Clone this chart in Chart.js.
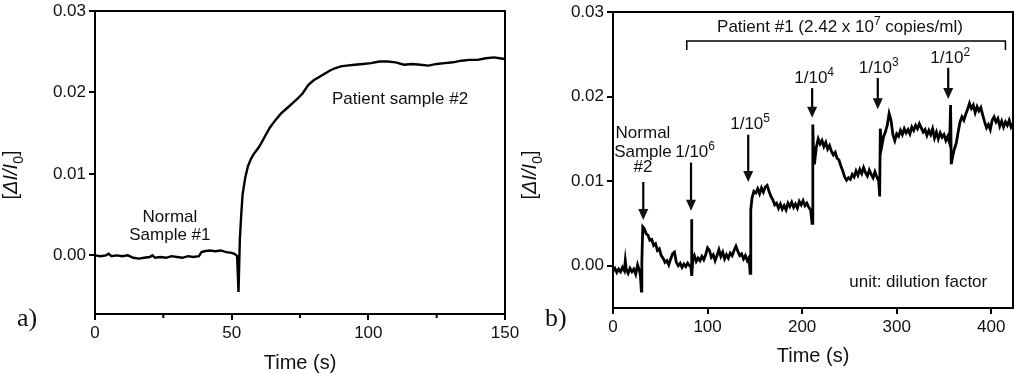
<!DOCTYPE html>
<html>
<head>
<meta charset="utf-8">
<script src="https://cdn.jsdelivr.net/npm/chart.js@4.4.1/dist/chart.umd.min.js"></script>
<style>
body { margin: 0; background: #fff; width: 1024px; height: 374px; overflow: hidden; position: relative; }
canvas { position: absolute; top: 0; }
#chartA { left: 0; }
#chartB { left: 512px; }
</style>
</head>
<body>
<canvas id="chartA" width="540" height="374"></canvas>
<canvas id="chartB" width="512" height="374"></canvas>
<script>
// panel a) normal sample #1 then patient sample #2
const timeA = [0,2,4,5,6,8,10,12,14,16,18,20,21,22,24,26,28,30,32,34,
	36,38,39,40,42,44,46,48,50,51,52,52.5,53,53.5,54,55,56,57,58,60,
	62,64,66,68,70,72,74,76,78,80,82,84,86,88,90,92,95,98,101,104,
	107,110,113,116,119,122,125,128,131,134,137,140,143,146,148,150];
const signalA = [0,-0.0001,0,0.0002,-0.0001,0,-0.0001,0,-0.0003,-0.0004,
	-0.0003,-0.0002,0,-0.0003,-0.0002,-0.0003,-0.0001,-0.0002,-0.0003,-0.0001,
	-0.0002,-0.0001,0.0004,0.0005,0.0006,0.0005,0.0006,0.0004,0.0003,0.0002,
	-0.0001,-0.0045,0.002,0.005,0.0075,0.0096,0.011,0.0118,0.0124,0.0133,
	0.0145,0.0157,0.0166,0.0174,0.018,0.0186,0.0192,0.0199,0.0209,0.0215,
	0.0219,0.0223,0.0227,0.023,0.0232,0.0233,0.0234,0.0235,0.0236,0.0238,
	0.0238,0.0237,0.0234,0.0235,0.0234,0.0233,0.0235,0.0236,0.0237,0.0239,
	0.024,0.024,0.0242,0.0243,0.0242,0.0241];
const xTicksA = [0, 50, 100, 150];
const xMinorA = [25, 75, 125];

// panel b) dilution series of patient #1
const timeB = [0,2,4,6,8,10,12,13,14,16,
	18,20,22,24,26,28,29,30,30.5,31.5,
	33,35,37,39,41,43,45,47,49,51,
	53,55,57,59,61,63,65,67,69,71,
	73,75,77,79,81,82.5,83,83.5,84.5,86,
	88,90,92,94,96,98,100,102,104,106,
	108,110,112,114,116,118,120,122,124,126,
	128,130,132,134,136,138,140,142,144,145,
	145.7,147,149,151,153,155,157,159,161,163,
	165,167,169,171,173,175,177,179,181,183,
	185,187,189,191,193,195,197,199,201,203,
	205,207,209,210.5,211.3,212,213,215,217,219,
	221,223,225,227,229,231,233,235,237,239,
	241,243,245,247,249,251,253,255,257,259,
	261,263,265,267,269,271,273,275,277,279,
	281,282,282.7,284,286,288,290,292,294,296,
	298,300,302,304,306,308,310,312,314,316,
	318,320,322,324,326,328,330,332,334,336,
	338,340,342,344,346,348,350,352,354,356,
	357,357.7,359,361,363,365,367,369,371,373,
	375,377,379,381,383,385,387,389,391,393,
	395,397,399,401,403,405,407,409,411,413,
	415,417,419,421,423,425];
const signalB = [-0.0006,-0.0003,-0.0008,-0.0004,-0.0007,-0.0002,-0.0006,0.0006,-0.0004,-0.0009,
	-0.0003,-0.0007,-0.0004,-0.001,0.0001,-0.0006,-0.0012,-0.003,0.0005,0.0046,
	0.0044,0.0038,0.0036,0.003,0.0031,0.0024,0.0026,0.0018,0.002,0.0012,
	0.0009,0.0004,0.0006,0.0001,0.0008,0.0014,0.0016,0.0004,0,0.0003,
	-0.0002,0.0002,-0.0001,0.0003,0,-0.0002,0.0055,-0.0012,0.0008,0.0012,
	0.0005,0.0009,0.0006,0.0011,0.0007,0.0013,0.0021,0.0018,0.001,0.0013,
	0.0006,0.0012,0.0019,0.0011,0.0016,0.0008,0.0013,0.0009,0.0015,0.0012,
	0.0018,0.0023,0.0017,0.0012,0.0014,0.0008,0.0012,0.0006,0.001,-0.0009,
	0.0066,0.008,0.0088,0.0086,0.0091,0.0085,0.0092,0.0087,0.0093,0.0095,
	0.0088,0.0082,0.0078,0.0072,0.0074,0.0068,0.0073,0.0067,0.0071,0.0066,
	0.0074,0.007,0.0075,0.0069,0.0073,0.0068,0.0076,0.0072,0.0077,0.0071,
	0.0074,0.0069,0.0066,0.005,0.0167,0.0135,0.012,0.014,0.015,0.0144,
	0.0148,0.0141,0.0146,0.0138,0.0142,0.0135,0.0131,0.0134,0.0127,0.0125,
	0.0118,0.0112,0.0105,0.0101,0.0104,0.0102,0.0108,0.0105,0.0112,0.0107,
	0.0114,0.0109,0.0116,0.011,0.0106,0.0113,0.0108,0.0104,0.0111,0.0105,
	0.01,0.0082,0.0162,0.014,0.0152,0.0158,0.0166,0.018,0.0172,0.0155,
	0.0148,0.0156,0.0153,0.016,0.0155,0.0162,0.0157,0.0161,0.0156,0.0164,
	0.016,0.0166,0.0162,0.0168,0.0163,0.0158,0.0161,0.0154,0.016,0.0155,
	0.0162,0.0151,0.0158,0.015,0.0157,0.0152,0.0155,0.0148,0.0153,0.0145,
	0.019,0.012,0.0128,0.0138,0.0145,0.0158,0.017,0.0176,0.0172,0.0179,
	0.0185,0.0192,0.0186,0.019,0.0181,0.0188,0.0183,0.0187,0.0178,0.017,
	0.0163,0.0167,0.0161,0.0172,0.0176,0.017,0.0174,0.0165,0.0171,0.0164,
	0.017,0.0166,0.0172,0.0164,0.0168,0.0165];
const xTicksB = [0, 100, 200, 300, 400];
const yTicks = [0, 0.01, 0.02, 0.03];

// injection times, arrow start and tip (signal units)
const arrowTime = [32, 82.5, 143, 210.6, 280, 354.5];
const arrowFrom = [0.0099, 0.0122, 0.0155, 0.021, 0.0222, 0.0234];
const arrowTo = [0.0054, 0.0065, 0.0099, 0.0175, 0.0185, 0.0197];
const dilutionExp = ['6', '5', '4', '3', '2'];

const FAM = '"Liberation Sans", Arial, Helvetica, sans-serif';
Chart.defaults.font.family = FAM;
Chart.defaults.color = '#111';

// draw mixed text: parts = [[text, kind]], kind '', 'i', 'sup', 'sub'
function rich(ctx, parts, cx, cy, size) {
	const fontOf = k => (k === 'i' ? 'italic ' : '') +
		(k === 'sup' || k === 'sub' ? Math.round(size * 0.68) : size) + 'px ' + FAM;
	let w = 0;
	parts.forEach(p => { ctx.font = fontOf(p[1]); w += ctx.measureText(p[0]).width; });
	let xx = cx - w / 2;
	const base = cy + size * 0.36;
	ctx.textAlign = 'left';
	ctx.textBaseline = 'alphabetic';
	parts.forEach(p => {
		ctx.font = fontOf(p[1]);
		const dy = p[1] === 'sup' ? -size * 0.42 : (p[1] === 'sub' ? size * 0.28 : 0);
		ctx.fillText(p[0], xx, base + dy);
		xx += ctx.measureText(p[0]).width;
	});
}

const panelPlugin = {
	id: 'panel',
	afterDraw(chart, args, opts) {
		const { ctx, chartArea: a, scales: { x, y } } = chart;
		ctx.save();
		ctx.strokeStyle = '#000';
		ctx.fillStyle = '#111';
		ctx.lineWidth = 2;
		ctx.strokeRect(a.left, a.top, a.right - a.left, a.bottom - a.top);
		(opts.minorX || []).forEach(v => {
			const px = x.getPixelForValue(v);
			ctx.beginPath(); ctx.moveTo(px, a.bottom); ctx.lineTo(px, a.bottom + 4); ctx.stroke();
		});
		// axis titles
		rich(ctx, [['Time (s)', '']], (a.left + a.right) / 2, a.bottom + opts.xTitleGap, 20);
		ctx.save();
		ctx.translate(opts.yTitleX, 175);
		ctx.rotate(-Math.PI / 2);
		rich(ctx, [['[', ''], ['\u0394I/I', 'i'], ['0', 'sub'], [']', '']], 0, -7, 20);
		ctx.restore();
		// panel letter
		ctx.font = '26px "Liberation Serif", "Times New Roman", serif';
		ctx.textAlign = 'left';
		ctx.textBaseline = 'alphabetic';
		ctx.fillText(opts.letter, opts.letterX, 326);
		if (opts.extra) opts.extra(ctx, x, y, a);
		ctx.restore();
	}
};

function makeChart(id, t, v, xMax, yMin, xTicks, lw, box, pluginOpts) {
	return new Chart(document.getElementById(id), {
		type: 'line',
		data: {
			datasets: [{
				data: t.map((tt, i) => ({ x: tt, y: v[i] })),
				borderColor: '#000',
				borderWidth: lw,
				pointRadius: 0,
				tension: 0,
				fill: false
			}]
		},
		options: {
			responsive: false,
			animation: false,
			events: [],
			layout: { padding: { top: box.top, right: box.right, left: 0, bottom: 0 } },
			plugins: { legend: { display: false }, tooltip: { enabled: false }, panel: pluginOpts },
			scales: {
				x: {
					type: 'linear', min: 0, max: xMax,
					afterBuildTicks: s => { s.ticks = xTicks.map(val => ({ value: val })); },
					afterFit: s => { s.height = box.xh; s.paddingLeft = 0; s.paddingRight = 0; },
					ticks: { font: { size: 17 }, color: '#111', padding: 3, maxRotation: 0, autoSkip: false, callback: val => String(val) },
					grid: { drawOnChartArea: false, drawTicks: true, tickLength: 6, color: '#000', lineWidth: 2 },
					border: { display: true, color: '#000', width: 2 }
				},
				y: {
					type: 'linear', min: yMin, max: 0.03,
					afterBuildTicks: s => { s.ticks = yTicks.map(val => ({ value: val })); },
					afterFit: s => { s.width = box.yw; s.paddingTop = 0; s.paddingBottom = 0; },
					ticks: { font: { size: 17 }, color: '#111', padding: 3, autoSkip: false, callback: val => val.toFixed(2) },
					grid: { drawOnChartArea: false, drawTicks: true, tickLength: 6, color: '#000', lineWidth: 2 },
					border: { display: true, color: '#000', width: 2 }
				}
			}
		},
		plugins: [panelPlugin]
	});
}

makeChart('chartA', timeA, signalA, 150, -0.0072, xTicksA, 2.4,
	{ top: 11, right: 35, xh: 60, yw: 95 },
	{
		minorX: xMinorA, xTitleGap: 48, yTitleX: 17, letter: 'a)', letterX: 17,
		extra(ctx, x, y) {
			rich(ctx, [['Normal', '']], x.getPixelForValue(27.4), y.getPixelForValue(0.0049), 17);
			rich(ctx, [['Sample #1', '']], x.getPixelForValue(27.4), y.getPixelForValue(0.0026), 17);
			rich(ctx, [['Patient sample #2', '']], x.getPixelForValue(111.6), y.getPixelForValue(0.0193), 17);
		}
	});

makeChart('chartB', timeB, signalB, 423, -0.005, xTicksB, 2.8,
	{ top: 12, right: 11, xh: 66, yw: 101 },
	{
		xTitleGap: 47, yTitleX: 24, letter: 'b)', letterX: 33,
		extra(ctx, x, y) {
			// bracket over the patient dilutions
			const bl = x.getPixelForValue(78), br = x.getPixelForValue(415);
			const bt = y.getPixelForValue(0.02656), bb = y.getPixelForValue(0.0255);
			ctx.lineWidth = 1.5;
			ctx.beginPath();
			ctx.moveTo(bl, bb); ctx.lineTo(bl, bt); ctx.lineTo(br, bt); ctx.lineTo(br, bb);
			ctx.stroke();
			rich(ctx, [['Patient #1 (2.42 x 10', ''], ['7', 'sup'], [' copies/ml)', '']],
				x.getPixelForValue(240), y.getPixelForValue(0.02834), 17);
			// arrows
			ctx.lineWidth = 2.2;
			arrowTime.forEach((tt, i) => {
				const px = x.getPixelForValue(tt);
				const y0 = y.getPixelForValue(arrowFrom[i]);
				const y1 = y.getPixelForValue(arrowTo[i]);
				ctx.beginPath(); ctx.moveTo(px, y0); ctx.lineTo(px, y1 - 9); ctx.stroke();
				ctx.beginPath();
				ctx.moveTo(px - 5, y1 - 11); ctx.lineTo(px + 5, y1 - 11); ctx.lineTo(px, y1);
				ctx.closePath(); ctx.fill();
			});
			rich(ctx, [['Normal', '']], x.getPixelForValue(31.7), y.getPixelForValue(0.0158), 17);
			rich(ctx, [['Sample', '']], x.getPixelForValue(31.7), y.getPixelForValue(0.01358), 17);
			rich(ctx, [['#2', '']], x.getPixelForValue(31.7), y.getPixelForValue(0.0118), 17);
			const labelT = [86.8, 145, 212.7, 281, 356.6];
			const labelY = [0.01358, 0.01688, 0.0223, 0.0235, 0.0247];
			dilutionExp.forEach((e, i) => {
				rich(ctx, [['1/10', ''], [e, 'sup']], x.getPixelForValue(labelT[i]), y.getPixelForValue(labelY[i]), 17);
			});
			rich(ctx, [['unit: dilution factor', '']], x.getPixelForValue(322.8), y.getPixelForValue(-0.00177), 17);
		}
	});
</script>
</body>
</html>
